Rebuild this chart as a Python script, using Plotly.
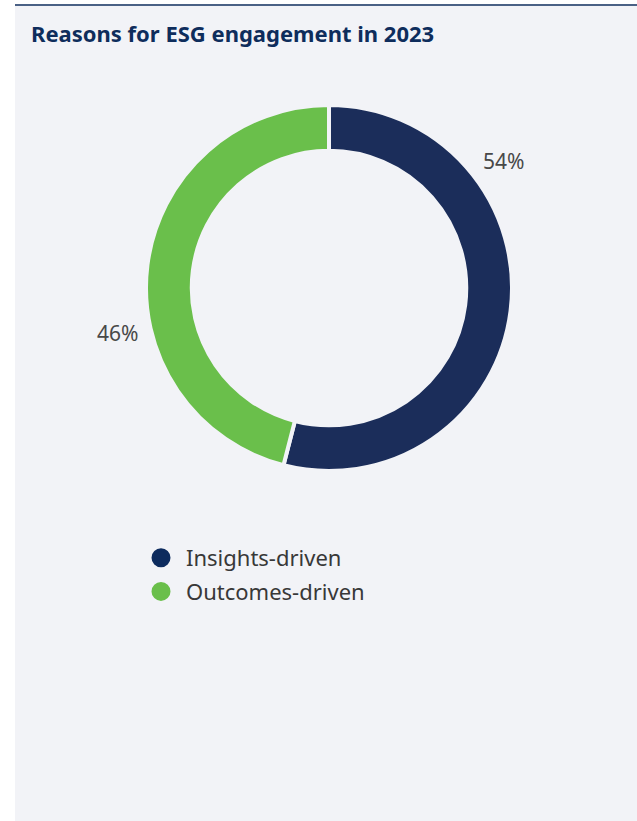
import math
import plotly.graph_objects as go

categories = ["Insights-driven", "Outcomes-driven"]
values = [54, 46]
colors = ["#1b2d5a", "#6abf4b"]
legend_colors = ["#0d2b5e", "#6abf4b"]
label_angles = [54, 258]  # degrees clockwise from top, where value labels sit

W, H = 637, 821
BG = "#f2f3f7"
cx, cy, R = 329, 288, 183  # pixel geometry of donut

fig = go.Figure()
fig.add_trace(go.Pie(
    labels=categories, values=values, hole=0.75, sort=False, direction="clockwise",
    rotation=0, marker=dict(colors=colors, line=dict(color=BG, width=4)),
    textinfo="none", hoverinfo="label+percent", showlegend=False,
    domain=dict(x=[(cx - R) / W, (cx + R) / W], y=[(H - cy - R) / H, (H - cy + R) / H]),
))
for name, col in zip(categories, legend_colors):
    fig.add_trace(go.Scatter(x=[None], y=[None], mode="markers", name=name, legendgroup=name,
                             marker=dict(symbol="circle", size=16, color=col,
                                         line=dict(color=col, width=3))))

annotations = [dict(text="<b>Reasons for ESG engagement in 2023</b>", x=29 / W, y=1 - 33 / H,
                    xref="paper", yref="paper", xanchor="left", yanchor="middle", showarrow=False,
                    font=dict(family="Noto Sans", size=22, color="#0e2d5c"))]
total = sum(values)
for v, a in zip(values, label_angles):
    rad = math.radians(a)
    r_lab = 216
    px = cx + r_lab * math.sin(rad)
    py = cy - r_lab * math.cos(rad)
    annotations.append(dict(text=f"{round(100 * v / total)}%", x=px / W, y=1 - py / H,
                            xref="paper", yref="paper", xanchor="center", yanchor="middle",
                            showarrow=False,
                            font=dict(family="Noto Sans", size=21, color="#484848")))

fig.update_layout(
    width=W, height=H, margin=dict(l=0, r=0, t=0, b=0),
    paper_bgcolor="white", plot_bgcolor="rgba(0,0,0,0)",
    xaxis=dict(visible=False, domain=[0, 0.01]), yaxis=dict(visible=False, domain=[0, 0.01]),
    shapes=[
        dict(type="rect", xref="paper", yref="paper", x0=15 / W, x1=1, y0=0, y1=1 - 6 / H,
             fillcolor=BG, line=dict(width=0), layer="below"),
        dict(type="line", xref="paper", yref="paper", x0=15 / W, x1=1, y0=1 - 5 / H, y1=1 - 5 / H,
             line=dict(color="#0e2d5c", width=1.5)),
    ],
    annotations=annotations,
    legend=dict(x=136 / W, y=1 - 537 / H, xanchor="left", yanchor="top", bgcolor="rgba(0,0,0,0)",
                font=dict(family="Noto Sans", size=22, color="#383838"), itemsizing="trace",
                itemwidth=40, tracegroupgap=2),
    hovermode="closest",
)
fig.write_html("out.html")
